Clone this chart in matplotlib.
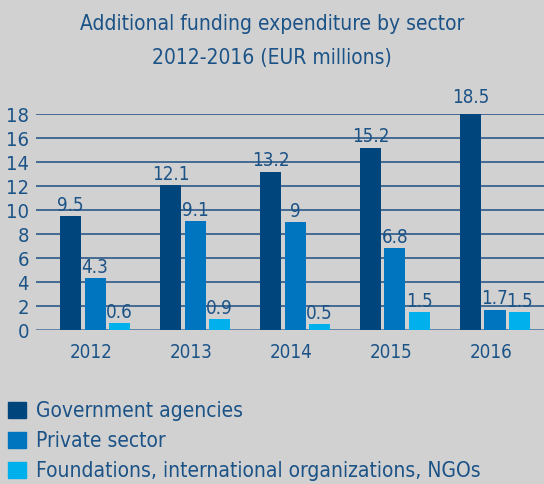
import matplotlib
matplotlib.use("Agg")
import matplotlib.pyplot as plt
from matplotlib import font_manager
import numpy as np

years = ["2012", "2013", "2014", "2015", "2016"]
government = [9.5, 12.1, 13.2, 15.2, 18.5]
private = [4.3, 9.1, 9, 6.8, 1.7]
foundations = [0.6, 0.9, 0.5, 1.5, 1.5]
value_labels_gov = ["9.5", "12.1", "13.2", "15.2", "18.5"]
value_labels_priv = ["4.3", "9.1", "9", "6.8", "1.7"]
value_labels_fnd = ["0.6", "0.9", "0.5", "1.5", "1.5"]
series_names = ["Government agencies", "Private sector",
                "Foundations, international organizations, NGOs"]
yticks = [0, 2, 4, 6, 8, 10, 12, 14, 16, 18]

colors = ["#00457c", "#0075bf", "#00b0ec"]
bg = "#d1d1d1"
txt = "#1c5387"
grid_c = "#1f4f82"

names = {f.name for f in font_manager.fontManager.ttflist}
cond = [f for f in font_manager.fontManager.ttflist
        if ('Narrow' in f.name or 'Condensed' in f.name or
            (isinstance(f.stretch, str) and 'condensed' in f.stretch) or
            (isinstance(f.stretch, int) and f.stretch < 500))]
stretch = 'normal'
if 'Liberation Sans Narrow' in names:
    fam = 'Liberation Sans Narrow'
elif cond:
    fam = cond[0].name
    stretch = 'condensed'
else:
    fam = 'DejaVu Sans'
plt.rcParams['font.family'] = [fam, 'DejaVu Sans']
plt.rcParams['font.stretch'] = stretch

W, H = 544, 484
fig = plt.figure(figsize=(W/100, H/100), dpi=100, facecolor=bg)
ax = fig.add_axes([36/W, 1-330/H, (W-36)/W, (330-114)/H])
ax.set_facecolor(bg)
ax.set_ylim(0, 18)
x = np.arange(len(years))
ax.set_xlim(-0.59, 4.49)

bw = 0.21
step = 0.245
for vals, labs, c, off in [(government, value_labels_gov, colors[0], -step),
                           (private, value_labels_priv, colors[1], 0),
                           (foundations, value_labels_fnd, colors[2], step)]:
    ax.bar(x + off, vals, width=bw, color=c, zorder=3)
    for xi, v, l in zip(x + off, vals, labs):
        ax.text(xi, v + 0.1, l, ha='center', va='bottom', fontsize=13.5,
                color=txt, zorder=4)

ax.set_yticks(yticks)
ax.set_yticklabels([str(t) for t in yticks], fontsize=14.5, color=txt)
ax.set_xticks(x - 0.04)
ax.set_xticklabels(years, fontsize=13.5, color=txt)
ax.tick_params(axis='both', length=0)
ax.tick_params(axis='y', pad=5)
ax.tick_params(axis='x', pad=9)
for s in ax.spines.values():
    s.set_visible(False)
for t in yticks:
    ax.axhline(t, color=grid_c if t > 0 else "#5a7fa6", lw=1.1 if t > 0 else 2, zorder=1)

fig.text(0.5, 1-41/H, "Additional funding expenditure by sector\n2012-2016 (EUR millions)",
         ha='center', va='center', fontsize=15, color=txt, linespacing=1.85)

handles = [plt.Rectangle((0, 0), 1, 1, color=c) for c in colors]
fig.legend(handles, series_names, loc='upper left', bbox_to_anchor=(0.003, 1-395/H),
           frameon=False, fontsize=15, labelcolor=txt, handlelength=0.87,
           handleheight=0.87, handletextpad=0.5, labelspacing=0.48,
           borderaxespad=0, borderpad=0.3)

fig.savefig("out.png", dpi=100, facecolor=bg)
